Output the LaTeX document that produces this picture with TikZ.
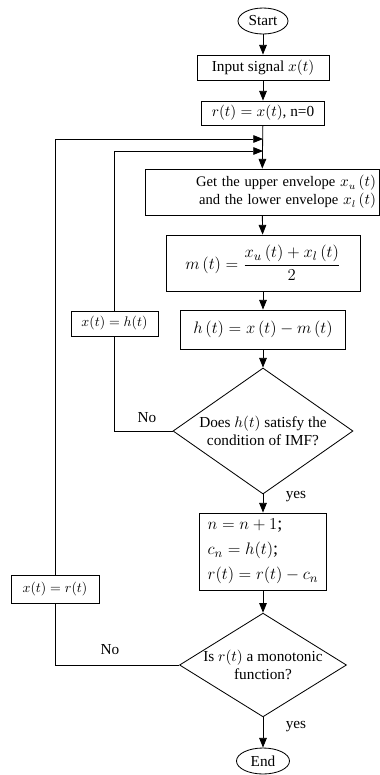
\documentclass[tikz,border=0pt]{standalone}
\usepackage{fontspec}
\setmainfont{Liberation Serif}
\usetikzlibrary{shapes.geometric,arrows.meta}
\newcommand{\px}{0.72pt}

\begin{document}
\begin{tikzpicture}[x=0.72pt,y=-0.72pt,
    line width=0.6pt, >={Triangle[length=7pt,width=5.5pt]},
    font=\fontsize{11}{13}\selectfont,
    proc/.style={draw, rectangle, inner sep=0pt, align=center},
    term/.style={draw, ellipse, inner sep=0pt},
    test/.style={draw, diamond, inner sep=0pt, align=center},
    lbl/.style={inner sep=1pt}]
      \useasboundingbox (0,0) rectangle (380,775);
      % main column
      \node[term, minimum width=50*\px, minimum height=26*\px] (start) at (263,21){Start};
      \node[proc, minimum width=132*\px, minimum height=25*\px] (input) at (263,67.5){Input signal $x(t)$};
      \node[proc, minimum width=123*\px, minimum height=24*\px] (rinit) at (263,113){$r(t)=x(t)$, n=0};
      \node[proc, minimum width=234*\px, minimum height=46*\px, text width=228*\px, align=right,
        font=\fontsize{10.5}{13}\selectfont] (env) at (262,192)
        {Get the upper envelope $x_u\left(t\right)$\\and the lower envelope $x_l\left(t\right)$};
      \node[proc, minimum width=194*\px, minimum height=56*\px, font=\fontsize{12.6}{15}\selectfont] (mean) at (263,263)
        {$m\left(t\right)=\displaystyle\frac{x_u\left(t\right)+x_l\left(t\right)}{2}$};
      \node[proc, minimum width=165*\px, minimum height=39*\px, font=\fontsize{12.6}{15}\selectfont] (hbox) at (263,329.5)
        {$h\left(t\right)=x\left(t\right)-m\left(t\right)$};
      \node[test, aspect=1.43, minimum width=180*\px, minimum height=126*\px] (imf) at (263,431)
        {Does $h(t)$ satisfy the\\condition of IMF?};
      \node[proc, minimum width=127*\px, minimum height=77*\px, align=left,
        font=\fontsize{13}{18}\selectfont] (upd) at (263,551.5)
        {$n=n+1$;\\ $c_n=h(t)$;\\ $r(t)=r(t)-c_n$};
      \node[test, aspect=1.61, minimum width=163*\px, minimum height=101*\px] (mono) at (263,665)
        {Is $r(t)$ a monotonic\\function?};
      \node[term, minimum width=53*\px, minimum height=26*\px] (end) at (263,761){End};
      % feedback boxes
      \node[proc, minimum width=87*\px, minimum height=25*\px, font=\normalsize] (xh) at (114.5,323.5){$x(t)=h(t)$};
      \node[proc, minimum width=88*\px, minimum height=28*\px, font=\normalsize] (xr) at (55,589){$x(t)=r(t)$};
      \coordinate (j1) at (263,139);
      \coordinate (j2) at (263,151);
      % connectors
      \draw[->] (start) -- (input);
      \draw[->] (input) -- (rinit);
      \draw[->] (rinit) -- (env);
      \draw[->] (env) -- (mean);
      \draw[->] (mean) -- (hbox);
      \draw[->] (hbox) -- (imf);
      \draw[->] (imf) -- (upd);
      \draw[->] (upd) -- (mono);
      \draw[->] (mono) -- (end);
      \draw (imf.west) -| (xh.south);
      \draw[->] (xh.north) |- (j2);
      \draw (mono.west) -| (xr.south);
      \draw[->] (xr.north) |- (j1);
      % labels
      \node[lbl] (no1) at (147,418){No};
      \node[lbl] (yes1) at (296,497){yes};
      \node[lbl] (no2) at (110,650){No};
      \node[lbl] (yes2) at (296,727){yes};
    \end{tikzpicture}
\end{document}
